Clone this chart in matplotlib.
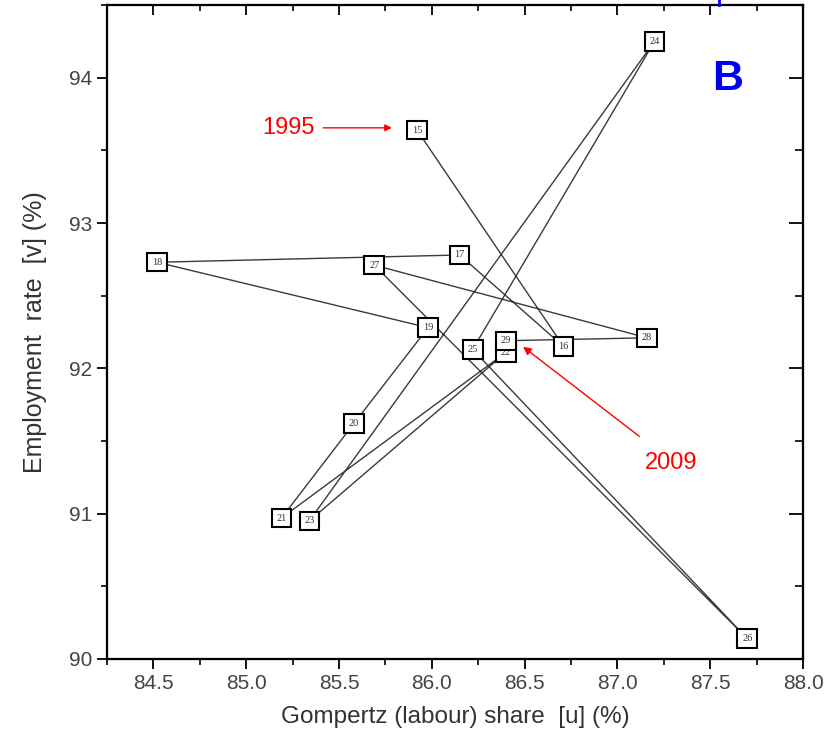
import numpy as np
import matplotlib.pyplot as plt
from matplotlib.ticker import MultipleLocator

# -------------------------------------------------------
# DATA
# -------------------------------------------------------
years = ["15", "16", "17", "18", "19", "20", "21", "22",
         "23", "24", "25", "26", "27", "28", "29"]
labour_share = [85.92, 86.71, 86.15, 84.52, 85.98, 85.58, 85.19, 86.40,
                85.34, 87.20, 86.22, 87.70, 85.69, 87.16, 86.40]
employment = [93.64, 92.15, 92.78, 92.73, 92.28, 91.62, 90.97, 92.11,
              90.95, 94.25, 92.13, 90.14, 92.71, 92.21, 92.19]

plt.rcParams['font.family'] = ['Liberation Sans', 'DejaVu Sans']

fig = plt.figure(figsize=(8.27, 7.40), dpi=100)
ax = fig.add_axes([0.1294, 0.1095, 0.8416, 0.8837])

# trajectory
ax.plot(labour_share, employment, color="#3a3a3a", lw=1.0, zorder=2)

# year boxes
for x, y, lab in zip(labour_share, employment, years):
    ax.text(x, y, lab, ha="center", va="center", fontsize=7.5,
            family="Liberation Serif", color="#333333", zorder=4,
            bbox=dict(boxstyle="square,pad=0.45", fc="white", ec="black", lw=1.5))

# annotations
ax.annotate("", xy=(85.80, 93.655), xytext=(85.40, 93.655),
            arrowprops=dict(arrowstyle="-|>", color="red", lw=1.0, mutation_scale=10))
ax.text(85.23, 93.655, "1995", color="red", fontsize=17, ha="center", va="center")

ax.annotate("", xy=(86.48, 92.16), xytext=(87.13, 91.52),
            arrowprops=dict(arrowstyle="-|>", color="red", lw=1.0, mutation_scale=12))
ax.text(87.29, 91.35, "2009", color="red", fontsize=17, ha="center", va="center")

ax.text(87.595, 93.99, "B", color="#0000ee", fontsize=31, fontweight="bold",
        ha="center", va="center")

# little blue arrow tip poking in at the top (from the panel above)
fig.add_artist(plt.Line2D([719 / 827, 719 / 827], [1.0, 0.993], color="blue", lw=2))

# -------------------------------------------------------
# AXES STYLE
# -------------------------------------------------------
ax.set_xlim(84.25, 88.0)
ax.set_ylim(90, 94.5)
ax.xaxis.set_major_locator(MultipleLocator(0.5))
ax.xaxis.set_minor_locator(MultipleLocator(0.25))
ax.yaxis.set_major_locator(MultipleLocator(1))
ax.yaxis.set_minor_locator(MultipleLocator(0.5))
ax.xaxis.set_major_formatter(plt.FormatStrFormatter("%.1f"))

for s in ax.spines.values():
    s.set_linewidth(1.5)

ax.tick_params(axis="both", which="major", direction="out", length=7, width=1.3,
               labelsize=15, labelcolor="#444444")
ax.tick_params(axis="both", which="minor", direction="out", length=4, width=1.2)
ax.tick_params(axis="x", which="both", top=False)
ax.tick_params(axis="y", which="both", right=False)

# top and right ticks point inward
ax_t = ax.twiny()
ax_t.set_xlim(ax.get_xlim())
ax_t.xaxis.set_major_locator(MultipleLocator(0.5))
ax_t.xaxis.set_minor_locator(MultipleLocator(0.25))
ax_t.tick_params(axis="x", which="major", direction="in", length=7, width=1.3, labeltop=False)
ax_t.tick_params(axis="x", which="minor", direction="in", length=4, width=1.2)
ax_r = ax.twinx()
ax_r.set_ylim(ax.get_ylim())
ax_r.yaxis.set_major_locator(MultipleLocator(1))
ax_r.yaxis.set_minor_locator(MultipleLocator(0.5))
ax_r.tick_params(axis="y", which="major", direction="in", length=10, width=1.3, labelright=False)
ax_r.tick_params(axis="y", which="minor", direction="in", length=6, width=1.2)
for a in (ax_t, ax_r):
    for s in a.spines.values():
        s.set_linewidth(1.5)

ax.set_xlabel("Gompertz (labour) share  [u] (%)", fontsize=17.5, color="#333333", labelpad=10)
ax.set_ylabel("Employment  rate  [v] (%)", fontsize=18, color="#333333", labelpad=16)

fig.savefig("out.png", dpi=100)
